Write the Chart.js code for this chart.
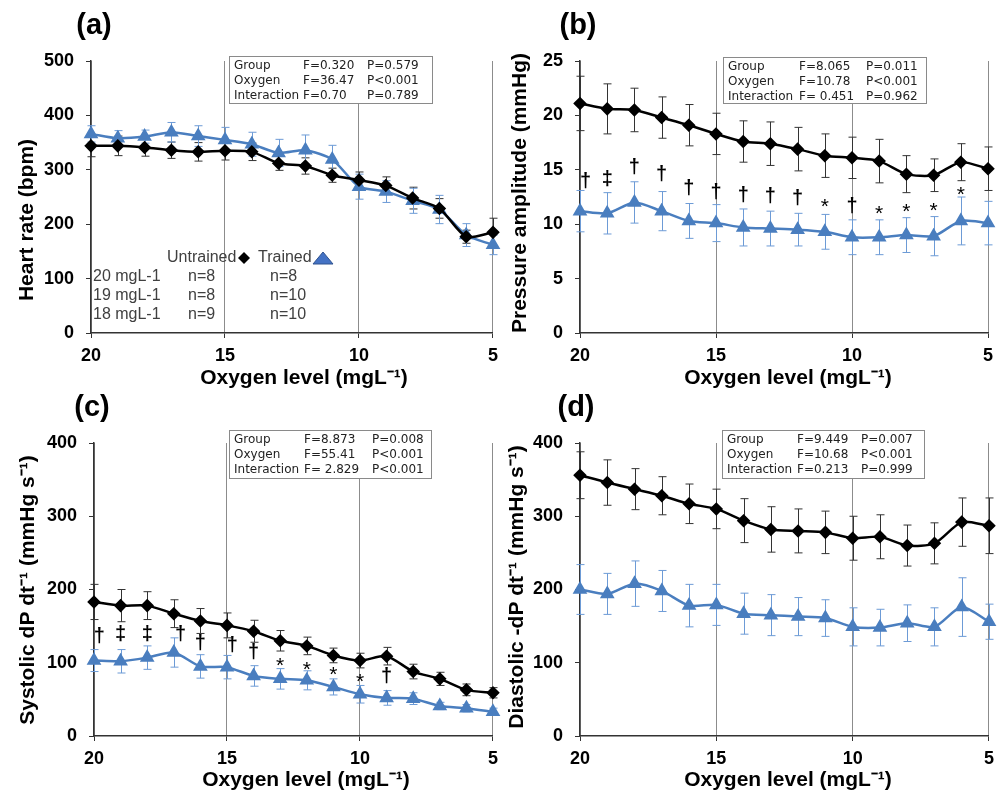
<!DOCTYPE html>
<html>
<head>
<meta charset="utf-8">
<script src="https://cdn.jsdelivr.net/npm/chart.js@4.4.1/dist/chart.umd.min.js"></script>
<style>
  body { margin: 0; background: #fff; }
  #wrap { position: relative; width: 1001px; height: 792px; overflow: hidden; }
  canvas { position: absolute; }
</style>
</head>
<body>
<div id="wrap">
  <canvas id="chA" width="505" height="390" style="left:0;top:0"></canvas>
  <canvas id="chB" width="506" height="390" style="left:495px;top:0"></canvas>
  <canvas id="chC" width="505" height="402" style="left:0;top:390px"></canvas>
  <canvas id="chD" width="506" height="402" style="left:495px;top:390px"></canvas>
</div>
<script>
// oxygen levels (mg/L), x axis runs 20 -> 5
const oxygen = [20, 19, 18, 17, 16, 15, 14, 13, 12, 11, 10, 9, 8, 7, 6, 5];

// (a) heart rate
const hrUntrained    = [344, 344, 341, 336, 333, 335, 333, 312, 307, 290, 281, 271, 248, 229, 177, 185];
const hrUntrainedErr = [20, 18, 16, 15, 17, 17, 16, 13, 15, 13, 15, 16, 20, 18, 12, 26];
const hrTrained      = [366, 358, 361, 369, 362, 355, 347, 331, 336, 319, 269, 260, 243, 227, 180, 162];
const hrTrainedErr   = [15, 14, 12, 18, 19, 23, 22, 25, 28, 26, 23, 20, 23, 26, 21, 18];
const hrStats = [["Group", "F=0.320", "P=0.579"], ["Oxygen", "F=36.47", "P<0.001"], ["Interaction", "F=0.70", "P=0.789"]];

// (b) pressure amplitude
const paUntrained    = [21.1, 20.6, 20.5, 19.8, 19.1, 18.3, 17.6, 17.4, 16.9, 16.3, 16.1, 15.8, 14.6, 14.5, 15.7, 15.1];
const paUntrainedErr = [2.5, 2.3, 2.0, 1.9, 1.9, 1.9, 1.9, 2.0, 2.0, 2.0, 1.9, 2.0, 1.7, 1.5, 1.7, 2.0];
const paTrained      = [11.2, 11.0, 12.0, 11.2, 10.3, 10.1, 9.7, 9.6, 9.5, 9.3, 8.8, 8.8, 9.0, 8.9, 10.3, 10.1];
const paTrainedErr   = [1.9, 1.9, 1.9, 1.8, 1.6, 1.7, 1.7, 1.6, 1.5, 1.6, 1.6, 1.6, 1.6, 1.8, 2.2, 2.0];
const paStats = [["Group", "F=8.065", "P=0.011"], ["Oxygen", "F=10.78", "P<0.001"], ["Interaction", "F= 0.451", "P=0.962"]];
const paSig  = ["†", "‡", "†", "†", "†", "†", "†", "†", "†", "*", "†", "*", "*", "*", "*"];
const paSigX = [19.8, 19, 18, 17, 16, 15, 14, 13, 12, 11, 10, 9, 8, 7, 6];
const paSigY = [13.9, 14.1, 15.2, 14.5, 13.2, 12.9, 12.6, 12.5, 12.3, 12.0, 11.6, 11.4, 11.6, 11.7, 13.1];

// (c) systolic dP/dt
const sdUntrained    = [183, 178, 178, 167, 157, 151, 143, 130, 123, 110, 103, 109, 88, 78, 63, 59];
const sdUntrainedErr = [24, 22, 19, 19, 17, 17, 15, 14, 12, 10, 10, 12, 10, 9, 8, 7];
const sdTrained      = [103, 102, 107, 114, 95, 94, 82, 78, 76, 67, 57, 52, 51, 41, 38, 33];
const sdTrainedErr   = [15, 16, 16, 20, 16, 16, 14, 14, 13, 11, 12, 10, 8, 5, 5, 5];
const sdStats = [["Group", "F=8.873", "P=0.008"], ["Oxygen", "F=55.41", "P<0.001"], ["Interaction", "F= 2.829", "P<0.001"]];
const sdSig  = ["†", "‡", "‡", "†", "†", "†", "†", "*", "*", "*", "*", "†"];
const sdSigX = [19.8, 19, 18, 16.75, 16, 14.8, 14, 13, 12, 11, 10, 9];
const sdSigY = [135, 138, 138, 138, 126, 123, 113, 102, 97, 90, 80, 81];

// (d) diastolic -dP/dt
const ddUntrained    = [356, 346, 337, 328, 317, 310, 294, 282, 280, 278, 270, 272, 260, 263, 292, 287];
const ddUntrainedErr = [32, 31, 28, 26, 27, 27, 30, 31, 30, 29, 30, 30, 28, 28, 33, 38];
const ddTrained      = [200, 194, 208, 198, 178, 179, 167, 165, 163, 161, 149, 148, 154, 149, 176, 156];
const ddTrainedErr   = [34, 28, 31, 28, 29, 28, 28, 28, 26, 25, 26, 25, 25, 26, 40, 24];
const ddStats = [["Group", "F=9.449", "P=0.007"], ["Oxygen", "F=10.68", "P<0.001"], ["Interaction", "F=0.213", "P=0.999"]];

// sample sizes shown in panel (a)
const nLevels    = ["20 mgL-1", "19 mgL-1", "18 mgL-1"];
const nUntrained = ["n=8", "n=8", "n=9"];
const nTrained   = ["n=8", "n=10", "n=10"];

const BLUE = '#4a7ebf';
const BLUE_ERR = '#6d9bd6';
const FONT = '"Liberation Sans", Arial, sans-serif';

const panels = [
  { id: 'chA', label: '(a)', labelPos: [94, 26], yTitle: 'Heart rate (bpm)', yTitlePos: [27, 220], xTitlePos: [304, 378],
    yMax: 500, yStep: 100, yWidth: 91, padRight: 9, padTop: 61, xHeight: 57,
    u: hrUntrained, uErr: hrUntrainedErr, t: hrTrained, tErr: hrTrainedErr,
    stats: hrStats, box: [229, 56, 203, 47], cols: [5, 74, 138], legend: true },
  { id: 'chB', label: '(b)', labelPos: [83, 26], yTitle: 'Pressure amplitude (mmHg)', yTitlePos: [25, 193], xTitlePos: [293, 378],
    yMax: 25, yStep: 5, yWidth: 85, padRight: 13, padTop: 61, xHeight: 57,
    u: paUntrained, uErr: paUntrainedErr, t: paTrained, tErr: paTrainedErr,
    stats: paStats, box: [228, 57, 203, 46], cols: [5, 76, 143],
    sig: paSig, sigX: paSigX, sigY: paSigY },
  { id: 'chC', label: '(c)', labelPos: [92, 18], yTitle: 'Systolic dP dt⁻¹ (mmHg s⁻¹)', yTitlePos: [28, 200], xTitlePos: [306, 390],
    yMax: 400, yStep: 100, yWidth: 94, padRight: 7, padTop: 53, xHeight: 56,
    u: sdUntrained, uErr: sdUntrainedErr, t: sdTrained, tErr: sdTrainedErr,
    stats: sdStats, box: [229, 40, 202, 48], cols: [5, 75, 143],
    sig: sdSig, sigX: sdSigX, sigY: sdSigY },
  { id: 'chD', label: '(d)', labelPos: [81, 18], yTitle: 'Diastolic -dP dt⁻¹ (mmHg s⁻¹)', yTitlePos: [22, 197], xTitlePos: [293, 390],
    yMax: 400, yStep: 100, yWidth: 85, padRight: 12, padTop: 53, xHeight: 56,
    u: ddUntrained, uErr: ddUntrainedErr, t: ddTrained, tErr: ddTrainedErr,
    stats: ddStats, box: [227, 40, 202, 48], cols: [5, 75, 139] }
];

// error bars, significance marks, titles, stats box, legend
const panelPlugin = {
  id: 'panel',
  beforeDatasetsDraw(chart, args, p) {
    const ctx = chart.ctx, xs = chart.scales.x, ys = chart.scales.y;
    ctx.save();
    ctx.lineWidth = 1;
    chart.data.datasets.forEach(ds => {
      ctx.strokeStyle = ds.errorColor;
      ds.data.forEach((pt, i) => {
        const x = Math.round(xs.getPixelForValue(pt.x)) + 0.5;
        const y1 = ys.getPixelForValue(pt.y - ds.errors[i]);
        const y2 = ys.getPixelForValue(pt.y + ds.errors[i]);
        ctx.beginPath();
        ctx.moveTo(x, y1); ctx.lineTo(x, y2);
        ctx.moveTo(x - 4, y1); ctx.lineTo(x + 4, y1);
        ctx.moveTo(x - 4, y2); ctx.lineTo(x + 4, y2);
        ctx.stroke();
      });
    });
    ctx.restore();
  },
  afterDraw(chart, args, p) {
    const ctx = chart.ctx, xs = chart.scales.x, ys = chart.scales.y;
    ctx.save();
    ctx.fillStyle = '#000';
    ctx.textAlign = 'center';
    ctx.textBaseline = 'middle';

    ctx.font = 'bold 29px ' + FONT;
    ctx.fillText(p.label, p.labelPos[0], p.labelPos[1]);

    ctx.font = 'bold 21px ' + FONT;
    ctx.fillText('Oxygen level (mgL⁻¹)', p.xTitlePos[0], p.xTitlePos[1]);
    ctx.save();
    ctx.translate(p.yTitlePos[0], p.yTitlePos[1]);
    ctx.rotate(-Math.PI / 2);
    ctx.fillText(p.yTitle, 0, 0);
    ctx.restore();

    // significance symbols
    if (p.sig) {
      ctx.textBaseline = 'alphabetic';
      p.sig.forEach((s, i) => {
        const x = xs.getPixelForValue(p.sigX[i]);
        const y = ys.getPixelForValue(p.sigY[i]);
        ctx.font = (s === '*' ? '21px ' : 'bold 20px ') + FONT;
        ctx.fillText(s, x, y + (s === '*' ? 11 : 5));
      });
    }

    // statistics box
    const [bx, by, bw, bh] = p.box;
    ctx.fillStyle = '#fff';
    ctx.fillRect(bx, by, bw, bh);
    ctx.strokeStyle = '#8a8a8a';
    ctx.lineWidth = 1;
    ctx.strokeRect(bx + 0.5, by + 0.5, bw, bh);
    ctx.fillStyle = '#222';
    ctx.font = '12px "DejaVu Sans", sans-serif';
    ctx.textAlign = 'left';
    ctx.textBaseline = 'middle';
    p.stats.forEach((row, r) => {
      row.forEach((txt, c) => ctx.fillText(txt, bx + p.cols[c], by + 10 + r * 15));
    });

    // group legend + sample sizes
    if (p.legend) {
      ctx.fillStyle = '#404040';
      ctx.font = '16px ' + FONT;
      ctx.fillText('Untrained', 167, 258);
      ctx.fillText('Trained', 258, 258);
      ctx.fillStyle = '#000';
      ctx.beginPath();
      ctx.moveTo(244, 252); ctx.lineTo(250, 258); ctx.lineTo(244, 264); ctx.lineTo(238, 258);
      ctx.closePath(); ctx.fill();
      ctx.fillStyle = '#4472c4';
      ctx.strokeStyle = '#2f528f';
      ctx.beginPath();
      ctx.moveTo(323, 252); ctx.lineTo(333, 264); ctx.lineTo(313, 264);
      ctx.closePath(); ctx.fill(); ctx.stroke();
      ctx.fillStyle = '#404040';
      nLevels.forEach((lv, i) => {
        const y = 277 + i * 19;
        ctx.fillText(lv, 93, y);
        ctx.fillText(nUntrained[i], 188, y);
        ctx.fillText(nTrained[i], 270, y);
      });
    }
    ctx.restore();
  }
};

function pts(vals) {
  return oxygen.map((o, i) => ({ x: o, y: vals[i] }));
}

panels.forEach(p => {
  new Chart(document.getElementById(p.id), {
    type: 'line',
    data: {
      datasets: [
        {
          label: 'Untrained', data: pts(p.u), errors: p.uErr, errorColor: '#333',
          borderColor: '#000', backgroundColor: '#000', borderWidth: 2.5,
          pointStyle: 'rectRot', pointRadius: 5, tension: 0.25, clip: false
        },
        {
          label: 'Trained', data: pts(p.t), errors: p.tErr, errorColor: BLUE_ERR,
          borderColor: BLUE, backgroundColor: BLUE, borderWidth: 2.5,
          pointStyle: 'triangle', pointRadius: 6, tension: 0.25, clip: false
        }
      ]
    },
    options: {
      responsive: false,
      animation: false,
      events: [],
      layout: { padding: { left: 0, right: p.padRight, top: p.padTop, bottom: 0 } },
      plugins: { legend: { display: false }, tooltip: { enabled: false }, panel: p },
      scales: {
        x: {
          type: 'linear', reverse: true, min: 5, max: 20,
          afterFit: s => { s.height = p.xHeight; },
          ticks: { stepSize: 5, maxRotation: 0, padding: 7, color: '#000', font: { family: FONT, size: 18, weight: 'bold' } },
          grid: { color: '#8c8c8c', lineWidth: 1, tickLength: 5, tickColor: '#333' },
          border: { color: '#333', width: 1.5 }
        },
        y: {
          min: 0, max: p.yMax,
          afterFit: s => { s.width = p.yWidth; },
          ticks: { stepSize: p.yStep, padding: 12, color: '#000', font: { family: FONT, size: 18, weight: 'bold' } },
          grid: { drawOnChartArea: false, tickLength: 5, tickColor: '#333' },
          border: { color: '#333', width: 1.5 }
        }
      }
    },
    plugins: [panelPlugin]
  });
});
</script>
</body>
</html>
